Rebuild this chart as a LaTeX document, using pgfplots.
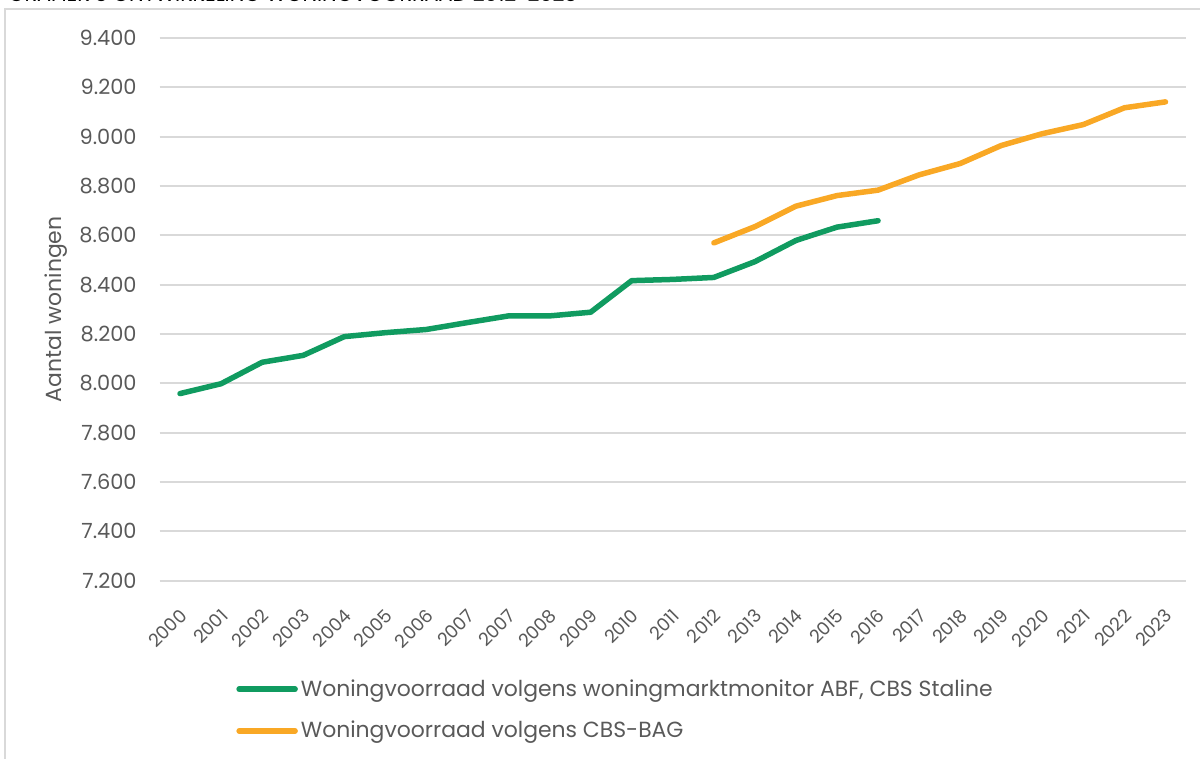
\documentclass[border=0pt]{standalone}
\usepackage{pgfplots}
\pgfplotsset{compat=1.18}
\usepackage{fontspec}
\setmainfont{Poppins}
\definecolor{grn}{HTML}{109B60}
\definecolor{org}{HTML}{F9A825}
\definecolor{txt}{HTML}{595959}
\definecolor{grd}{HTML}{D9D9D9}
\begin{document}
\begin{tikzpicture}[x=1bp,y=1bp]
\draw[grd, line width=1bp] (2.5,-20) -- (2.5,374.5) -- (650,374.5);
\node[anchor=base west, inner sep=0pt, font=\fontsize{10.4}{12}\selectfont] at (4,378.4) {GRAFIEK 3 ONTWIKKELING WONINGVOORRAAD 2012-2023};
\begin{axis}[
  at={(79.75bp,88.75bp)}, anchor=south west,
  width=513.25bp, height=271.25bp, scale only axis,
  xmin=-0.5, xmax=24.5, ymin=7200, ymax=9400,
  ytick={7200,7400,...,9400},
  xtick={0,...,24},
  xticklabels={2000,2001,2002,2003,2004,2005,2006,2007,2007,2008,2009,2010,2011,2012,2013,2014,2015,2016,2017,2018,2019,2020,2021,2022,2023},
  axis line style={draw=none}, tick style={draw=none},
  ymajorgrids, grid style={grd, line width=1bp},
  /pgf/number format/assume math mode=true,
  yticklabel style={/pgf/number format/.cd, fixed, 1000 sep={.}, /tikz/.cd, anchor=east, inner sep=0pt, xshift=-11.25bp, font=\fontsize{10.5}{12}\selectfont, text=txt},
  xticklabel style={rotate=45, anchor=north east, inner sep=0pt, yshift=-9bp, xshift=-10bp, font=\fontsize{9.1}{11}\selectfont, text=txt},
  ylabel={Aantal woningen},
  ylabel style={at={(axis description cs:-0.1008,0.5)}, rotate=0, anchor=center, font=\fontsize{11}{13}\selectfont, text=txt},
  legend style={at={(axis description cs:0.0745,-0.176)}, anchor=north west, draw=none, fill=none, inner sep=0pt, row sep=8bp, font=\fontsize{11}{13}\selectfont, text=txt, nodes={inner sep=1.5bp}},
  legend cell align=left,
  legend image code/.code={\draw[#1, line cap=round] (0bp,0bp) -- (28bp,0bp);},
]
\addplot[grn, line width=2.75bp, line cap=round, line join=round] coordinates {
(0,7958) (1,7998) (2,8085) (3,8113) (4,8189) (5,8205) (6,8218) (7,8246) (8,8273) (9,8273) (10,8288) (11,8416) (12,8421) (13,8429) (14,8493) (15,8579) (16,8633) (17,8659)};
\addlegendentry{Woningvoorraad volgens woningmarktmonitor ABF, CBS Staline}
\addplot[org, line width=2.75bp, line cap=round, line join=round] coordinates {
(13,8569) (14,8635) (15,8718) (16,8761) (17,8783) (18,8845) (19,8891) (20,8964) (21,9012) (22,9049) (23,9117) (24,9141)};
\addlegendentry{Woningvoorraad volgens CBS-BAG}
\end{axis}
\pgfresetboundingbox
\useasboundingbox (0,0) rectangle (600,379);
\end{tikzpicture}
\end{document}
